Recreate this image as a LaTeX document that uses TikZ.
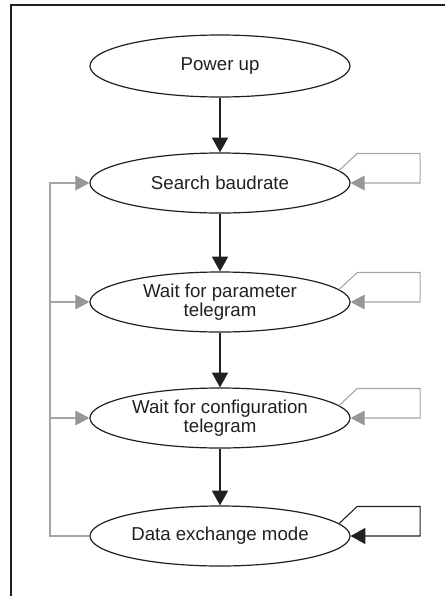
\documentclass[tikz,border=0pt]{standalone}
\usepackage{fontspec}
\setmainfont{Liberation Sans}
\usetikzlibrary{shapes.geometric,arrows.meta}
\definecolor{ink}{RGB}{35,31,32}
\definecolor{loopgray}{RGB}{165,165,168}
\definecolor{tipgray}{RGB}{150,150,155}
\tikzset{
  state/.style={draw=ink, line width=0.9pt, ellipse, minimum width=195pt, minimum height=45pt, inner sep=0pt, align=center, font=\fontsize{14pt}{14.5pt}\selectfont, text=ink},
  flow/.style={draw=ink, line width=0.9pt, -{Triangle[length=11pt,width=12pt]}},
  back/.style={draw=loopgray, line width=0.8pt, -{Triangle[length=10.5pt,width=11pt,color=tipgray]}},
  backnt/.style={draw=loopgray, line width=0.8pt},
  selfblack/.style={draw=ink, line width=0.8pt, -{Triangle[length=11pt,width=12pt]}},
  frame/.style={draw=ink, line width=1pt}
}
\begin{document}
\begin{tikzpicture}[x=0.75pt,y=-0.75pt]
\useasboundingbox (0,0) rectangle (445,596);
\coordinate (f0) at (11,596);
\coordinate (f1) at (11,5);
\coordinate (f2) at (445,5);
\draw[frame] (f0) -- (f1) -- (f2);

\node[state, minimum height=46.5pt] (pu) at (220,66) {Power up};
\node[state] (s) at (220,183) {Search baudrate};
\node[state] (p) at (220,302) {Wait for parameter\\telegram};
\node[state] (c) at (220,418) {Wait for configuration\\telegram};
\node[state] (d) at (220,536) {Data exchange mode};

\draw[flow] (pu) -- (s);
\draw[flow] (s) -- (p);
\draw[flow] (p) -- (c);
\draw[flow] (c) -- (d);

% left return path
\coordinate (lx) at (50,536);
\draw[back] (d.west) -- (lx) |- (s.west);
\draw[back] (p.west -| lx) -- (p.west);
\draw[back] (c.west -| lx) -- (c.west);

% self loops
\draw[back] (s.6) -- ++(18,-17) -- ++(63,0) |- (s.east);
\draw[back] (p.6) -- ++(18,-17) -- ++(63,0) |- (p.east);
\draw[back] (c.6) -- ++(18,-17) -- ++(63,0) |- (c.east);
\draw[selfblack] (d.6) -- ++(18,-17) -- ++(63,0) |- (d.east);
\end{tikzpicture}
\end{document}
